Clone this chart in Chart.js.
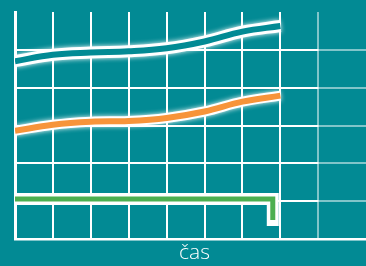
<!DOCTYPE html>
<html>
<head>
<meta charset="utf-8">
<script src="https://cdn.jsdelivr.net/npm/chart.js@4"></script>
<style>
  html, body { margin: 0; padding: 0; background: #028a94; overflow: hidden; }
  #wrap { width: 374px; height: 266px; }
</style>
</head>
<body>
<div id="wrap"><canvas id="myChart"></canvas></div>
<script>
// data
var xValues = [0, 1, 2, 3, 4, 5, 6, 7];
var blueValues = [4.70, 4.87, 4.93, 4.96, 5.04, 5.22, 5.48, 5.63];
var orangeValues = [2.86, 3.02, 3.10, 3.12, 3.20, 3.37, 3.63, 3.79];
var greenX = [0, 6.8, 6.8];
var greenY = [1.06, 1.06, 0.5];
var axisTitle = "čas";

var bg = "#028a94";

function pts(xs, ys) {
  return xs.map((x, i) => ({x: x, y: ys[i]}));
}

// soft white halo behind some lines
const glow = {
  id: "glow",
  beforeDatasetDraw(chart, args) {
    let ds = chart.data.datasets[args.index];
    chart.ctx.save();
    if (ds.glow) {
      chart.ctx.shadowColor = "rgba(255,255,255,0.95)";
      chart.ctx.shadowBlur = ds.glow;
    }
  },
  afterDatasetDraw(chart) {
    chart.ctx.restore();
  }
};

// solid white grid over the part where the data runs
const solidGrid = {
  id: "solidGrid",
  beforeDatasetsDraw(chart) {
    let ctx = chart.ctx, xs = chart.scales.x, ys = chart.scales.y;
    let top = chart.chartArea.top, bottom = chart.chartArea.bottom;
    ctx.save();
    ctx.strokeStyle = "#ffffff";
    ctx.lineWidth = 2;
    for (let i = 1; i <= 7; i++) {
      let px = Math.round(xs.getPixelForValue(i));
      ctx.beginPath(); ctx.moveTo(px, top); ctx.lineTo(px, bottom); ctx.stroke();
    }
    for (let j = 1; j <= 5; j++) {
      let py = Math.round(ys.getPixelForValue(j));
      ctx.beginPath(); ctx.moveTo(xs.getPixelForValue(0), py); ctx.lineTo(xs.getPixelForValue(8), py); ctx.stroke();
    }
    ctx.restore();
  }
};

new Chart("myChart", {
  type: "line",
  data: {
    datasets: [
      {data: pts(xValues, blueValues), borderColor: bg, borderWidth: 6, tension: 0.4, order: 1},
      {data: pts(xValues, blueValues), borderColor: "#ffffff", borderWidth: 12, tension: 0.4, glow: 5, order: 2},
      {data: pts(xValues, orangeValues), borderColor: "#f7943a", borderWidth: 6, tension: 0.4, order: 3},
      {data: pts(xValues, orangeValues), borderColor: "#ffffff", borderWidth: 10, tension: 0.4, glow: 5, order: 4},
      {data: pts(greenX, greenY), borderColor: "#4caf50", borderWidth: 5, borderJoinStyle: "miter", tension: 0, order: 5},
      {data: pts(greenX, greenY), borderColor: "#ffffff", borderWidth: 12, borderJoinStyle: "miter", borderCapStyle: "square", tension: 0, order: 6}
    ]
  },
  options: {
    responsive: true,
    maintainAspectRatio: false,
    animation: false,
    layout: {padding: {left: 15, top: 12, right: 0, bottom: 0}},
    elements: {point: {radius: 0}},
    plugins: {legend: {display: false}, tooltip: {enabled: false}},
    scales: {
      x: {
        type: "linear",
        min: 0,
        max: 9.47,
        ticks: {display: false},
        grid: {color: "rgba(255,255,255,0.5)", lineWidth: 2, drawTicks: false},
        border: {color: "#ffffff", width: 2.5},
        title: {display: true, text: axisTitle, color: "#ffffff",
                font: {family: "Open Sans", size: 21, weight: 300}, padding: {top: 2, bottom: 0}},
        afterFit(scale) { scale.height = 27; }
      },
      y: {
        min: 0,
        max: 6,
        ticks: {display: false, stepSize: 1},
        grid: {color: (c) => c.tick && c.tick.value === 6 ? "rgba(0,0,0,0)" : "rgba(255,255,255,0.5)", lineWidth: 2, drawTicks: false},
        border: {color: "#ffffff", width: 3}
      }
    }
  },
  plugins: [glow, solidGrid]
});
</script>
</body>
</html>
